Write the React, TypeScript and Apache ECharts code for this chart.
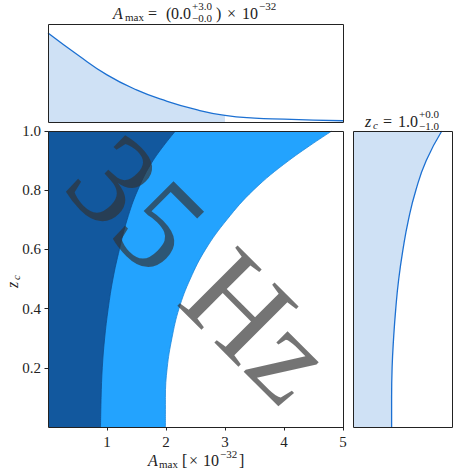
import React, { useEffect, useRef } from "react";
import * as echarts from "echarts";

// ---- data ----
// top marginal: A_max grid and relative posterior density
const A_GRID = [0, 0.5, 1.0, 1.5, 2.0, 2.5, 3.0, 3.5, 4.0, 4.5, 5.0];
const A_DENSITY = [0.908, 0.686, 0.481, 0.328, 0.215, 0.128, 0.067, 0.039, 0.029, 0.02, 0.013];
const A_UPPER = 3.0; // shaded interval upper limit

// main panel: contour boundaries (A_max reached at each z_c level)
const Z_LEVELS = [0, 0.1, 0.2, 0.3, 0.4, 0.5, 0.6, 0.7, 0.8, 0.9, 1.0];
const INNER_BOUNDARY = [0.89, 0.9, 0.92, 0.96, 1.02, 1.1, 1.21, 1.34, 1.52, 1.78, 2.16];
const OUTER_BOUNDARY = [1.99, 1.99, 2.02, 2.1, 2.22, 2.41, 2.67, 3.03, 3.48, 4.08, 4.81];

// right marginal: relative density of z_c at Z_LEVELS
const Z_DENSITY = [0.39, 0.39, 0.395, 0.41, 0.432, 0.462, 0.505, 0.56, 0.635, 0.74, 0.897];

const X_TICKS = [0, 1, 2, 3, 4, 5];
const Y_TICKS = [0, 0.2, 0.4, 0.6, 0.8, 1.0];

// ---- layout ----
const TOP = { left: 48, top: 24, width: 295, height: 98 };
const MAIN = { left: 48, top: 131, width: 295, height: 296 };
const RIGHT = { left: 353, top: 131, width: 99, height: 296 };

const SERIF = "Liberation Serif";
const INK = "#222";

function txt(text: string, x: number, y: number, size: number, italic = false) {
  return {
    type: "text",
    x,
    y,
    z: 60,
    style: {
      text,
      fill: INK,
      fontFamily: SERIF,
      fontSize: size,
      fontStyle: italic ? "italic" : "normal",
      verticalAlign: "middle",
      align: "left",
    },
  };
}

function frame(g: { left: number; top: number; width: number; height: number }) {
  return {
    type: "rect",
    z: 70,
    shape: { x: g.left + 0.5, y: g.top + 0.5, width: g.width, height: g.height },
    style: { fill: "none", stroke: INK, lineWidth: 1 },
    silent: true,
  };
}

export default function App() {
  const ref = useRef<HTMLDivElement>(null);

  useEffect(() => {
    if (!ref.current) return;
    const chart = echarts.init(ref.current, undefined, { renderer: "svg" });

    const topLine = A_GRID.map((a, i) => [a, A_DENSITY[i]]);
    const topFill = topLine.filter((p) => p[0] <= A_UPPER);

    const region = (data: number[], color: string, edge: string, z: number) => ({
      type: "line",
      xAxisIndex: 1,
      yAxisIndex: 3,
      data,
      smooth: 0.4,
      symbol: "none",
      lineStyle: { width: 0.8, color: edge },
      areaStyle: { color, opacity: 1 },
      z,
    });

    const option: any = {
      animation: false,
      backgroundColor: "#fff",
      grid: [
        { ...TOP, containLabel: false },
        { ...MAIN, containLabel: false },
        { ...RIGHT, containLabel: false },
      ],
      xAxis: [
        { gridIndex: 0, type: "value", min: 0, max: 5, show: false },
        {
          gridIndex: 1,
          type: "value",
          min: X_TICKS[0],
          max: X_TICKS[X_TICKS.length - 1],
          interval: 1,
          axisLine: { show: false },
          axisTick: { show: true, length: 3.5, inside: false, lineStyle: { color: INK } },
          splitLine: { show: false },
          axisLabel: { showMinLabel: false, margin: 7, color: INK, fontFamily: SERIF, fontSize: 15 },
        },
        { gridIndex: 2, type: "value", min: 0, max: 1, show: false },
      ],
      yAxis: [
        { gridIndex: 0, type: "value", min: 0, max: 1, show: false },
        {
          gridIndex: 1,
          type: "value",
          min: Y_TICKS[0],
          max: Y_TICKS[Y_TICKS.length - 1],
          interval: 0.2,
          axisLine: { show: false },
          axisTick: { show: true, length: 3.5, inside: false, lineStyle: { color: INK } },
          splitLine: { show: false },
          axisLabel: {
            showMinLabel: false,
            margin: 7,
            color: INK,
            fontFamily: SERIF,
            fontSize: 15,
            formatter: (v: number) => v.toFixed(1),
          },
        },
        {
          gridIndex: 2,
          type: "category",
          data: Z_LEVELS.map((z) => z.toFixed(1)),
          boundaryGap: false,
          show: false,
        },
        {
          gridIndex: 1,
          type: "category",
          data: Z_LEVELS.map((z) => z.toFixed(1)),
          boundaryGap: false,
          show: false,
        },
      ],
      series: [
        {
          type: "line",
          xAxisIndex: 0,
          yAxisIndex: 0,
          data: topFill,
          smooth: true,
          symbol: "none",
          lineStyle: { width: 0, opacity: 0 },
          areaStyle: { color: "#cfe1f5", opacity: 1 },
          z: 2,
        },
        {
          type: "line",
          xAxisIndex: 0,
          yAxisIndex: 0,
          data: topLine,
          smooth: true,
          symbol: "none",
          lineStyle: { width: 1.3, color: "#1c70d2" },
          z: 3,
        },
        region(OUTER_BOUNDARY, "#23a3fe", "#1a86dc", 2),
        region(INNER_BOUNDARY, "#12589e", "#0f4c8c", 3),
        {
          type: "line",
          xAxisIndex: 2,
          yAxisIndex: 2,
          data: Z_DENSITY,
          smooth: true,
          symbol: "none",
          lineStyle: { width: 1.3, color: "#1c70d2" },
          areaStyle: { color: "#cfe1f5", opacity: 1 },
          z: 2,
        },
      ],
      graphic: [
        frame(TOP),
        frame(MAIN),
        frame(RIGHT),
        // watermark (origin = top-left of the text box, rotated 45 deg clockwise)
        {
          type: "text",
          x: 137,
          y: 111,
          rotation: -Math.PI / 4,
          z: 50,
          style: {
            text: "35 Hz",
            fontFamily: SERIF,
            fontSize: 130,
            fill: "rgba(50,50,50,0.68)",
          },
        },
        // top title
        txt("A", 113, 13, 16, true),
        txt("max", 125, 17, 11),
        txt("=", 148, 13, 16),
        txt("(", 166, 13, 16),
        txt("0.0", 171, 13, 16),
        txt("+3.0", 192, 6, 11),
        txt("\u22120.0", 192, 18, 11),
        txt(")", 216, 13, 16),
        txt("\u00d7", 227, 13, 16),
        txt("10", 242, 13, 16),
        txt("\u221232", 259, 6, 11),
        // right title
        txt("z", 365, 121, 16, true),
        txt("c", 373, 125, 11, true),
        txt("=", 383, 121, 16),
        txt("1.0", 398, 121, 16),
        txt("+0.0", 419, 114, 11),
        txt("\u22121.0", 419, 126, 11),
        // x-axis label
        txt("A", 148, 460, 16, true),
        txt("max", 159, 464, 11),
        txt("[", 182, 460, 16),
        txt("\u00d7", 189, 460, 16),
        txt("10", 203, 460, 16),
        txt("\u221232", 220, 454, 11),
        txt("]", 239, 460, 16),
        // y-axis label
        {
          type: "group",
          x: 12,
          y: 282,
          rotation: Math.PI / 2,
          children: [txt("z", -6, 0, 16, true), txt("c", 2, 4, 11, true)],
        },
      ],
    };

    chart.setOption(option);
    return () => chart.dispose();
  }, []);

  return (
    <div
      ref={ref}
      style={{ position: "fixed", left: 0, top: 0, width: 475, height: 475, background: "#fff" }}
    />
  );
}
